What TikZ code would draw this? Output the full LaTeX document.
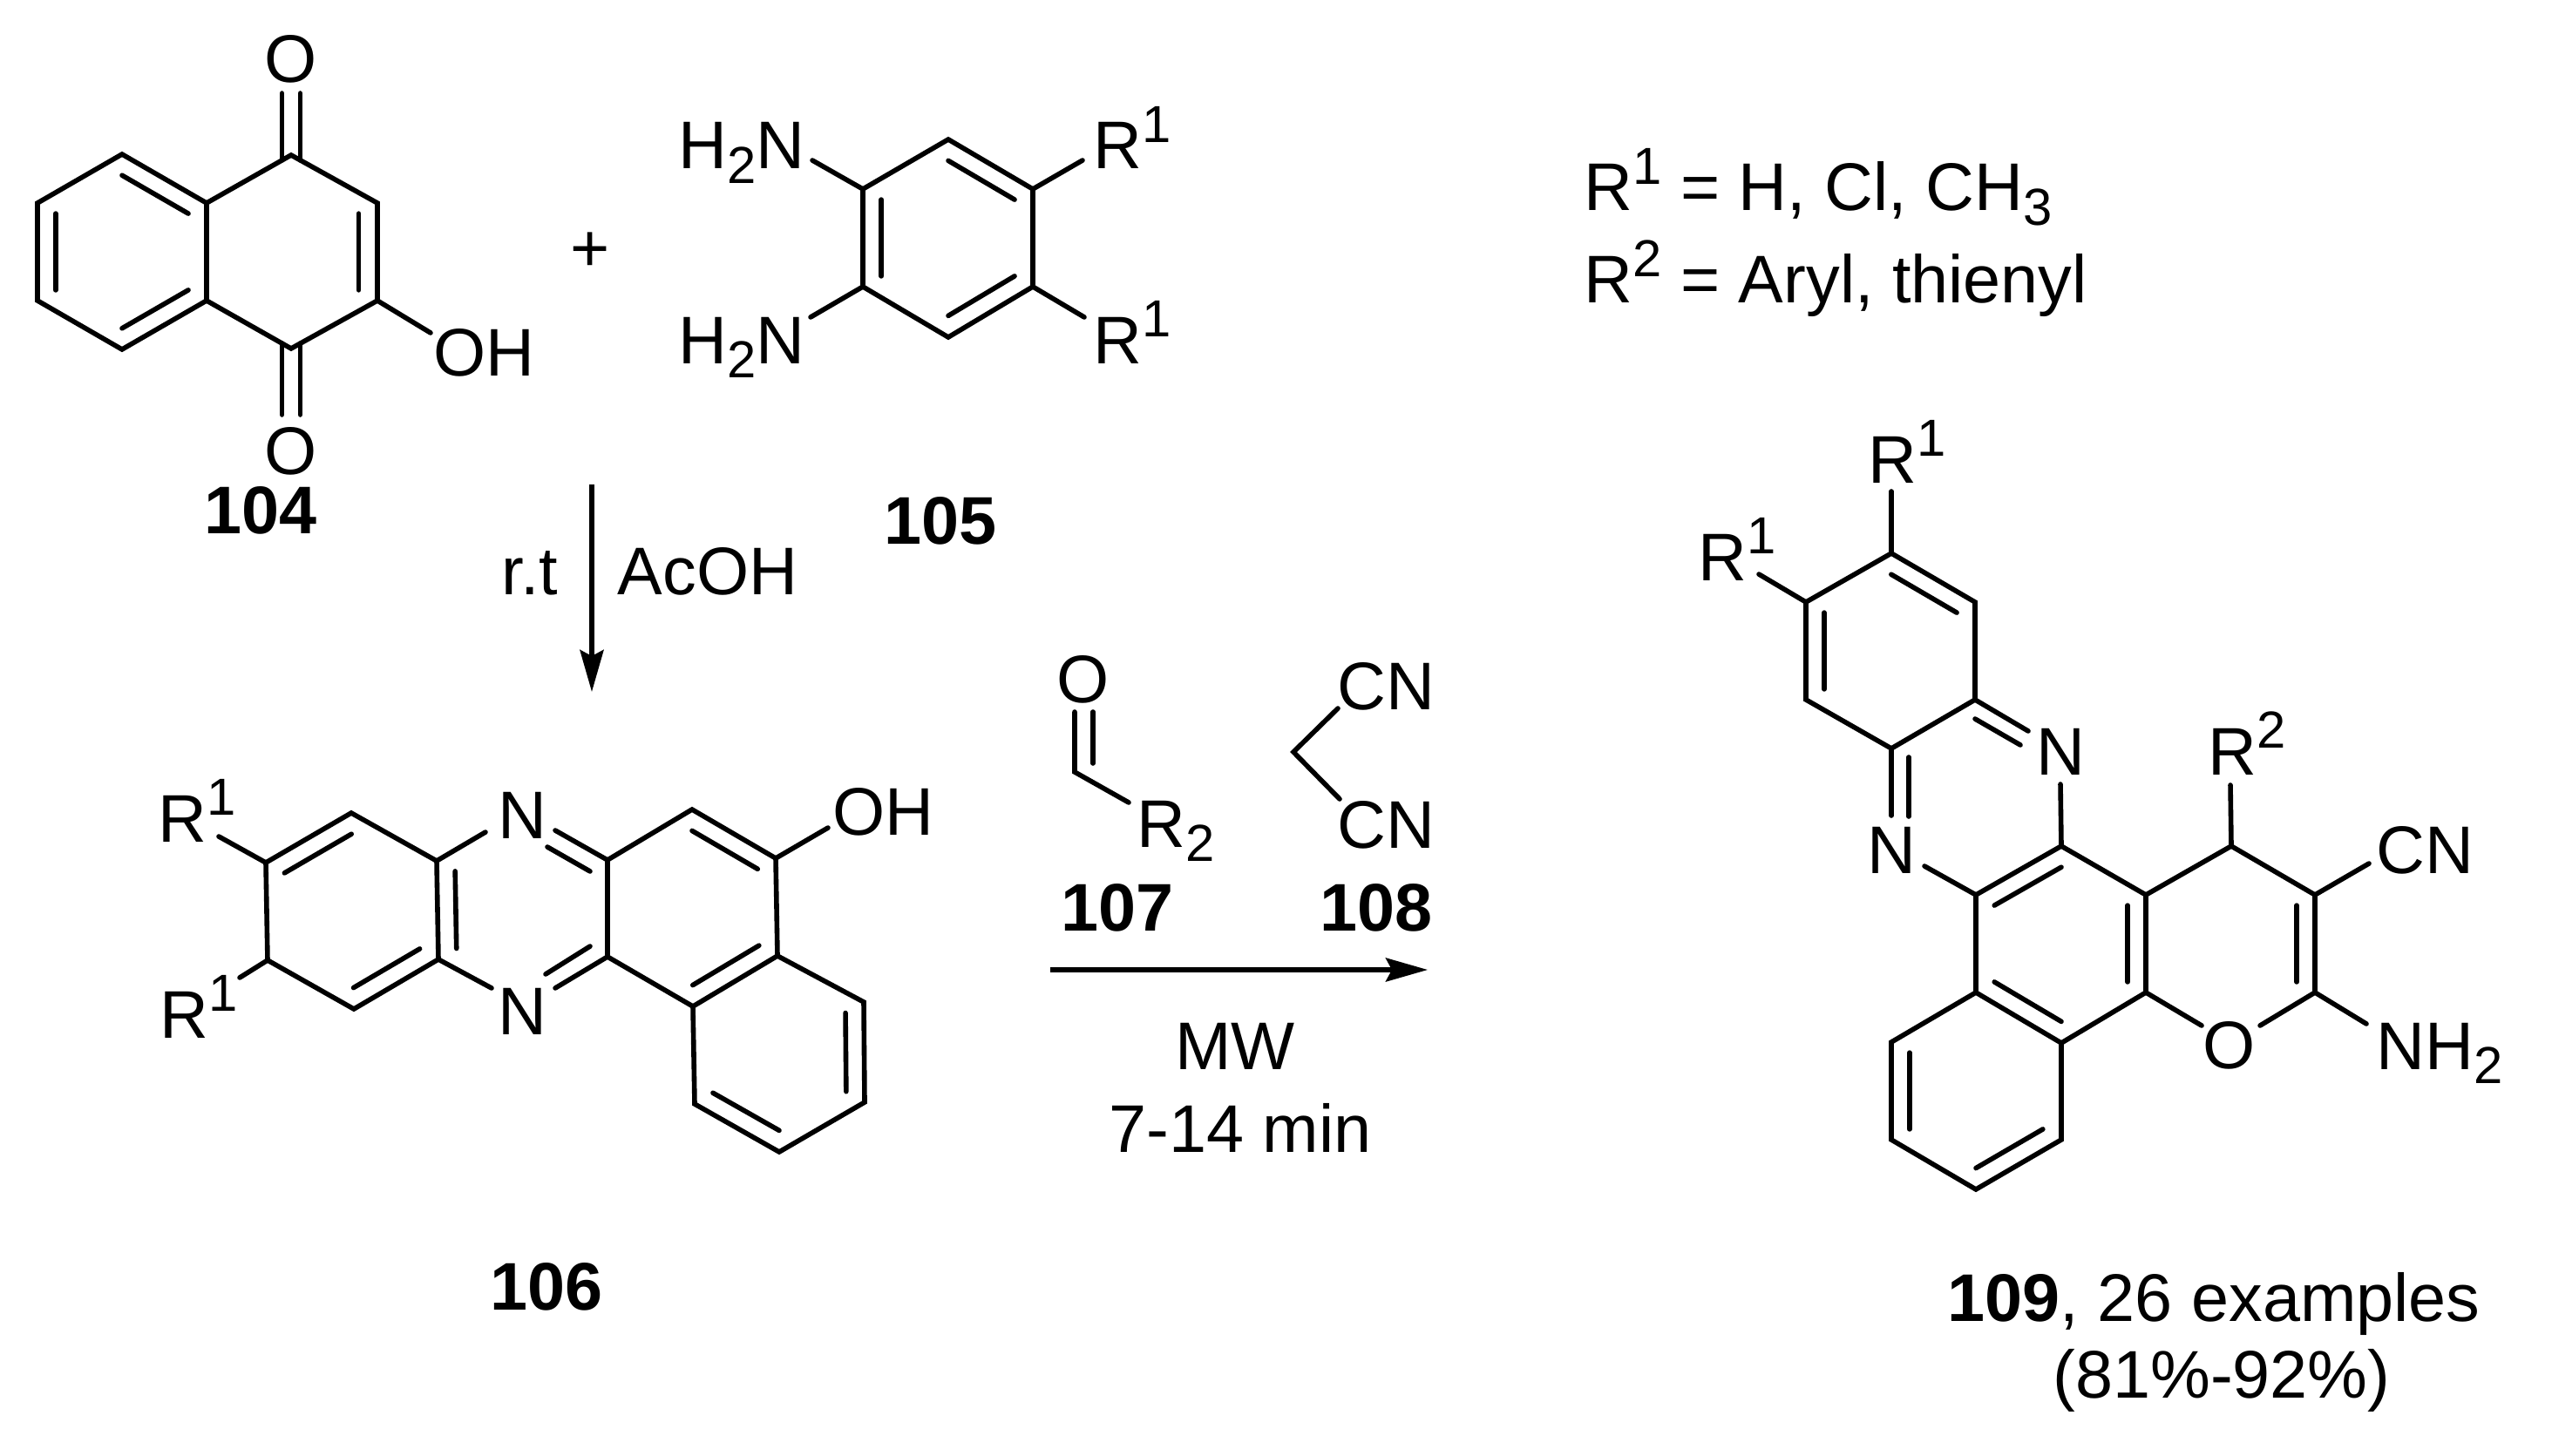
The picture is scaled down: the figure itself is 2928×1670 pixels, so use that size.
\documentclass[tikz,border=0pt]{standalone}
\usepackage{fontspec}
\setmainfont{Liberation Sans}
\usetikzlibrary{arrows.meta,calc}

\newcommand{\chemsup}[1]{\raisebox{.40em}{\fontsize{17}{18}\selectfont #1}}
\newcommand{\chemsub}[1]{\raisebox{-.21em}{\fontsize{17}{18}\selectfont #1}}
\newcommand{\innerbond}[3]{\draw[bond] ($(#1)!.216!(#3)$) -- ($(#2)!.216!(#3)$);}

\tikzset{
    bond/.style={line width=0.056cm, line cap=round, line join=miter},
    rxnarrow/.style={line width=0.053cm, -{Stealth[length=0.48cm, width=0.27cm, inset=0.07cm]}},
    atomlabel/.style={anchor=base west, inner sep=0pt, font=\fontsize{22}{26}\selectfont},
    atommid/.style={atomlabel, anchor=base},
    cpdlabel/.style={atommid, font=\fontsize{22}{26}\selectfont\bfseries},
}

\begin{document}
\begin{tikzpicture}[x=0.01cm, y=-0.01cm]
    \useasboundingbox (0,0) rectangle (2928,1670);

    % Naphthoquinone 104
    \coordinate (qa1) at (140,177);
    \coordinate (qa2) at (237,233);
    \coordinate (qa3) at (237,345);
    \coordinate (qa4) at (140,401);
    \coordinate (qa5) at (43,345);
    \coordinate (qa6) at (43,233);
    \coordinate (qb1) at (334,178);
    \coordinate (qb2) at (433,233);
    \coordinate (qb3) at (433,345);
    \coordinate (qb4) at (334,400);
    \coordinate (qac) at (140,289);
    \coordinate (qbc) at (334,289);
    \coordinate (qotop) at (334,107);
    \coordinate (qobot) at (334,476);
    \coordinate (qoh) at (494,382);

    \draw[bond] (qa1) -- (qa2) -- (qa3) -- (qa4) -- (qa5) -- (qa6) -- cycle;
    \draw[bond] (qa2) -- (qb1) -- (qb2) -- (qb3) -- (qb4) -- (qa3);
    \innerbond{qa1}{qa2}{qac}
    \innerbond{qa3}{qa4}{qac}
    \innerbond{qa5}{qa6}{qac}
    \innerbond{qb2}{qb3}{qbc}
    \draw[bond] ([xshift=-1.05mm, yshift=-0.06cm]qb1) -- ([xshift=-1.05mm]qotop);
    \draw[bond] ([xshift=1.05mm, yshift=-0.06cm]qb1) -- ([xshift=1.05mm]qotop);
    \draw[bond] ([xshift=-1.05mm, yshift=0.06cm]qb4) -- ([xshift=-1.05mm]qobot);
    \draw[bond] ([xshift=1.05mm, yshift=0.06cm]qb4) -- ([xshift=1.05mm]qobot);
    \draw[bond] (qb3) -- (qoh);

    \node[atommid] (qotext) at (334,95) {O};
    \node[atommid] (qobtext) at (334,544) {O};
    \node[atomlabel] (qohtext) at (497,432) {OH};
    \node[cpdlabel] (cpd104) at (299,612) {104};
    \node[atommid] (plus) at (677,312) {+};

    % Diamine 105
    \coordinate (da1) at (1088,160);
    \coordinate (da2) at (1185,217);
    \coordinate (da3) at (1185,329);
    \coordinate (da4) at (1088,387);
    \coordinate (da5) at (990,329);
    \coordinate (da6) at (990,217);
    \coordinate (dac) at (1088,273);
    \coordinate (dnup) at (932,184);
    \coordinate (dnlo) at (930,364);
    \coordinate (drup) at (1242,184);
    \coordinate (drlo) at (1244,364);

    \draw[bond] (da1) -- (da2) -- (da3) -- (da4) -- (da5) -- (da6) -- cycle;
    \innerbond{da1}{da2}{dac}
    \innerbond{da3}{da4}{dac}
    \innerbond{da5}{da6}{dac}
    \draw[bond] (da6) -- (dnup);
    \draw[bond] (da5) -- (dnlo);
    \draw[bond] (da2) -- (drup);
    \draw[bond] (da3) -- (drlo);

    \node[atomlabel] (dnuptext) at (778,194) {H\chemsub{2}N};
    \node[atomlabel] (dnlotext) at (778,417) {H\chemsub{2}N};
    \node[atomlabel] (druptext) at (1254,194) {R\chemsup{1}};
    \node[atomlabel] (drlotext) at (1254,417) {R\chemsup{1}};
    \node[cpdlabel] (cpd105) at (1079,624) {105};

    % First step
    \coordinate (stepa) at (679,556);
    \coordinate (stepb) at (679,794);
    \draw[rxnarrow] (stepa) -- (stepb);
    \node[atomlabel] (rttext) at (575,682) {r.t};
    \node[atomlabel] (acoh) at (708,682) {AcOH};

    % Phenazine 106
    \coordinate (pa1) at (305,990);
    \coordinate (pa2) at (403,933);
    \coordinate (pa3) at (501,988);
    \coordinate (pa4) at (503,1101);
    \coordinate (pa5) at (406,1158);
    \coordinate (pa6) at (307,1102);
    \coordinate (pb1) at (697,987);
    \coordinate (pb2) at (794,929);
    \coordinate (pb3) at (890,985);
    \coordinate (pb4) at (892,1097);
    \coordinate (pb5) at (795,1155);
    \coordinate (pb6) at (697,1098);
    \coordinate (pc1) at (991,1150);
    \coordinate (pc2) at (992,1265);
    \coordinate (pc3) at (894,1322);
    \coordinate (pc4) at (797,1267);
    \coordinate (pac) at (404,1045);
    \coordinate (pmc) at (599,1043);
    \coordinate (pbc) at (794,1042);
    \coordinate (pcc) at (894,1208);
    \coordinate (pnul) at (557,955);
    \coordinate (pnur) at (637,953);
    \coordinate (pnuia) at (628,972);
    \coordinate (pnuib) at (677,1000);
    \coordinate (pnll) at (564,1134);
    \coordinate (pnlr) at (637,1134);
    \coordinate (pnlia) at (626,1118);
    \coordinate (pnlib) at (677,1086);
    \coordinate (poh) at (950,950);
    \coordinate (prup) at (251,960);
    \coordinate (prlo) at (275,1122);

    \draw[bond] (pa1) -- (pa2) -- (pa3) -- (pa4) -- (pa5) -- (pa6) -- cycle;
    \draw[bond] (pb1) -- (pb2) -- (pb3) -- (pb4) -- (pb5) -- (pb6) -- cycle;
    \draw[bond] (pb4) -- (pc1) -- (pc2) -- (pc3) -- (pc4) -- (pb5);
    \innerbond{pa1}{pa2}{pac}
    \innerbond{pa4}{pa5}{pac}
    \innerbond{pa3}{pa4}{pmc}
    \innerbond{pb2}{pb3}{pbc}
    \innerbond{pb4}{pb5}{pbc}
    \innerbond{pc1}{pc2}{pcc}
    \innerbond{pc3}{pc4}{pcc}
    \draw[bond] (pa3) -- (pnul);
    \draw[bond] (pb1) -- (pnur);
    \draw[bond] (pnuia) -- (pnuib);
    \draw[bond] (pa4) -- (pnll);
    \draw[bond] (pb6) -- (pnlr);
    \draw[bond] (pnlia) -- (pnlib);
    \draw[bond] (pb3) -- (poh);
    \draw[bond] (pa1) -- (prup);
    \draw[bond] (pa6) -- (prlo);

    \node[atommid] (pntop) at (599,962) {N};
    \node[atommid] (pnbot) at (599,1187) {N};
    \node[atomlabel] (pohtext) at (955,958) {OH};
    \node[atomlabel] (pruptext) at (181,966) {R\chemsup{1}};
    \node[atomlabel] (prlotext) at (183,1191) {R\chemsup{1}};
    \node[cpdlabel] (cpd106) at (627,1503) {106};

    % Aldehyde 107 and malononitrile 108
    \coordinate (alc) at (1233,886);
    \coordinate (alo) at (1233,817);
    \coordinate (aloi) at (1254,817);
    \coordinate (alci) at (1254,876);
    \coordinate (alr) at (1295,921);
    \coordinate (mapex) at (1484,863);
    \coordinate (mup) at (1535,813);
    \coordinate (mlo) at (1537,917);

    \draw[bond] (alo) -- (alc) -- (alr);
    \draw[bond] (aloi) -- (alci);
    \draw[bond] (mup) -- (mapex) -- (mlo);

    \node[atommid] (alotext) at (1243,806) {O};
    \node[atomlabel] (alrtext) at (1304,972) {R\chemsub{2}};
    \node[atomlabel] (mcnup) at (1534,814) {CN};
    \node[atomlabel] (mcnlo) at (1534,973) {CN};
    \node[cpdlabel] (cpd107) at (1282,1068) {107};
    \node[cpdlabel] (cpd108) at (1579,1068) {108};

    % Second step
    \coordinate (stepc) at (1205,1113);
    \coordinate (stepd) at (1638,1113);
    \draw[rxnarrow] (stepc) -- (stepd);
    \node[atommid] (mwtext) at (1417,1227) {MW};
    \node[atommid] (timetext) at (1423,1322) {7-14 min};

    % Substituents
    \node[atomlabel] (rone) at (1817,242) {R\chemsup{1} = H, Cl, CH\chemsub{3}};
    \node[atomlabel] (rtwo) at (1817,348) {R\chemsup{2} = Aryl, thienyl};

    % Product 109
    \coordinate (ta1) at (2170,635);
    \coordinate (ta2) at (2266,691);
    \coordinate (ta3) at (2266,803);
    \coordinate (ta4) at (2170,859);
    \coordinate (ta5) at (2072,803);
    \coordinate (ta6) at (2072,691);
    \coordinate (tb1) at (2267,1027);
    \coordinate (tb2) at (2365,971);
    \coordinate (tb3) at (2462,1027);
    \coordinate (tb4) at (2462,1139);
    \coordinate (tb5) at (2365,1197);
    \coordinate (tb6) at (2267,1139);
    \coordinate (tc1) at (2560,971);
    \coordinate (tc2) at (2656,1027);
    \coordinate (tc3) at (2656,1139);
    \coordinate (td1) at (2170,1196);
    \coordinate (td2) at (2170,1308);
    \coordinate (td3) at (2267,1365);
    \coordinate (td4) at (2365,1308);
    \coordinate (tac) at (2169,747);
    \coordinate (tbc) at (2365,1083);
    \coordinate (tcc) at (2559,1083);
    \coordinate (tdc) at (2267,1252);
    \coordinate (tnra) at (2327,839);
    \coordinate (tnria) at (2266,825);
    \coordinate (tnrib) at (2318,855);
    \coordinate (tnla) at (2170,936);
    \coordinate (tnlia) at (2190,869);
    \coordinate (tnlib) at (2190,937);
    \coordinate (tnlb) at (2208,994);
    \coordinate (tnrb) at (2364,900);
    \coordinate (trtop) at (2170,564);
    \coordinate (trleft) at (2018,659);
    \coordinate (trtwo) at (2559,901);
    \coordinate (tcn) at (2718,991);
    \coordinate (tnh) at (2715,1175);
    \coordinate (toa) at (2526,1177);
    \coordinate (tob) at (2593,1177);

    \draw[bond] (ta1) -- (ta2) -- (ta3) -- (ta4) -- (ta5) -- (ta6) -- cycle;
    \draw[bond] (tb1) -- (tb2) -- (tb3) -- (tb4) -- (tb5) -- (tb6) -- cycle;
    \draw[bond] (tb3) -- (tc1) -- (tc2) -- (tc3);
    \draw[bond] (tb6) -- (td1) -- (td2) -- (td3) -- (td4) -- (tb5);
    \innerbond{ta1}{ta2}{tac}
    \innerbond{ta5}{ta6}{tac}
    \innerbond{tb1}{tb2}{tbc}
    \innerbond{tb3}{tb4}{tbc}
    \innerbond{tb5}{tb6}{tbc}
    \innerbond{tc2}{tc3}{tcc}
    \innerbond{td1}{td2}{tdc}
    \innerbond{td3}{td4}{tdc}
    \draw[bond] (ta3) -- (tnra);
    \draw[bond] (tnria) -- (tnrib);
    \draw[bond] (ta4) -- (tnla);
    \draw[bond] (tnlia) -- (tnlib);
    \draw[bond] (tnlb) -- (tb1);
    \draw[bond] (tnrb) -- (tb2);
    \draw[bond] (ta1) -- (trtop);
    \draw[bond] (ta6) -- (trleft);
    \draw[bond] (tc1) -- (trtwo);
    \draw[bond] (tc2) -- (tcn);
    \draw[bond] (tc3) -- (tnh);
    \draw[bond] (tb4) -- (toa);
    \draw[bond] (tc3) -- (tob);

    \node[atomlabel] (trtoptext) at (2143,554) {R\chemsup{1}};
    \node[atomlabel] (trlefttext) at (1948,666) {R\chemsup{1}};
    \node[atommid] (tnright) at (2364,889) {N};
    \node[atommid] (tnleft) at (2170,1002) {N};
    \node[atomlabel] (trtwotext) at (2533,889) {R\chemsup{2}};
    \node[atomlabel] (tcntext) at (2726,1002) {CN};
    \node[atommid] (totext) at (2558,1226) {O};
    \node[atomlabel] (tnhtext) at (2726,1227) {NH\chemsub{2}};
    \node[atomlabel] (cpd109) at (2234,1516) {\textbf{109}, 26 examples};
    \node[atommid] (yieldtext) at (2549,1604) {(81\%-92\%)};
\end{tikzpicture}
\end{document}
